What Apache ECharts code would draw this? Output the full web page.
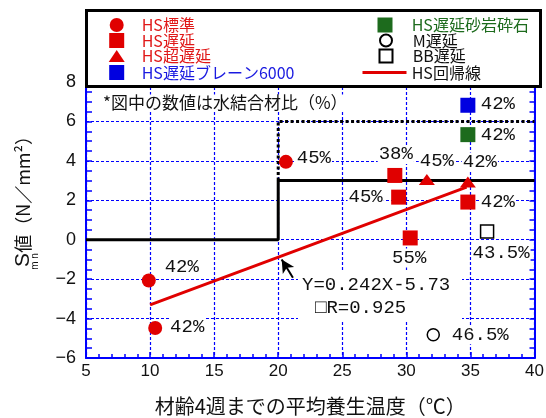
<!DOCTYPE html>
<html><head><meta charset="utf-8">
<script src="https://cdn.jsdelivr.net/npm/echarts@6/dist/echarts.min.js"></script>
<style>html,body{margin:0;padding:0;background:#fff}#c{width:546px;height:418px}</style>
</head><body><div id="c"></div>
<script>
// Sm,n value against the mean curing temperature up to 4 weeks of age
const xTicks = [5, 10, 15, 20, 25, 30, 35, 40];
const yTicks = [-6, -4, -2, 0, 2, 4, 6, 8];

// Water-binder ratios are shown next to each point
const hsStdX = [20.6, 9.9, 10.4];
const hsStdY = [3.95, -2.07, -4.48];
const hsStdWB = ['45%', '42%', '42%'];

const hsRetX = [29.1, 29.4, 30.3, 34.8];
const hsRetY = [3.26, 2.16, 0.09, 1.91];
const hsRetWB = ['38%', '45%', '55%', '42%'];

const hsSuperX = [31.6, 34.8];
const hsSuperY = [3.05, 2.93];
const hsSuperWB = ['45%', '42%'];

const hsBlaineX = [34.8];
const hsBlaineY = [6.82];
const hsBlaineWB = ['42%'];

const hsSandX = [34.8];
const hsSandY = [5.33];
const hsSandWB = ['42%'];

const mRetX = [32.1];
const mRetY = [-4.82];
const mRetWB = ['46.5%'];

const bbRetX = [36.3];
const bbRetY = [0.42];
const bbRetWB = ['43.5%'];

// Regression of the HS series
const regSlope = 0.242;
const regIntercept = -5.73;
const regR = '0.925';
const regXRange = [10, 34.7];

// Reference boundaries
const stepSolidX = [5, 20, 20, 40];
const stepSolidY = [0, 0, 3, 3];
const stepDottedX = [20, 20, 40];
const stepDottedY = [3, 6, 6];

// Pointer from the equation to the line (tail, head)
const arrowX = [21.15, 20.27];
const arrowY = [-1.93, -1.0];

// Label offsets of the ratio text, centre relative to the point (px)
const hsStdLabelAt = [[28, -4], [33, -14], [32, -1]];
const hsRetLabelAt = [[1, -21], [-33, 0], [-1, 20], [30, 0]];
const hsSuperLabelAt = [[10, -19], [12, -20]];
const hsBlaineLabelAt = [[30, -1]];
const hsSandLabelAt = [[30, 0]];
const mRetLabelAt = [[47, 0]];
const bbRetLabelAt = [[14, 22]];

const RED = '#e00000', BLUE = '#0000e0', GREEN = '#1d6b1d', AXIS = '#0000ff';
const MONO = '"Liberation Mono", "DejaVu Sans Mono", monospace';
const CJK = '"Noto Sans CJK JP", sans-serif';

function zip(xs, ys) { return xs.map((x, i) => [x, ys[i]]); }

function pointsWithLabels(xs, ys, texts, placements) {
  return xs.map((x, i) => ({
    value: [x, ys[i]],
    label: {
      show: true,
      position: 'inside',
      formatter: texts[i],
      offset: placements[i],
      fontFamily: MONO,
      fontSize: 19,
      color: '#111',
      backgroundColor: '#fff',
      padding: [0, 1]
    }
  }));
}

function scatter(name, symbol, size, style, xs, ys, texts, placements) {
  return {
    name: name, type: 'scatter', symbol: symbol, symbolSize: size,
    itemStyle: Object.assign({ opacity: 1 }, style), z: 5,
    data: pointsWithLabels(xs, ys, texts, placements)
  };
}

const regData = regXRange.map(x => [x, regSlope * x + regIntercept]);

// One legend block per entry: icon centred at iconX, text starting at textX
function legendAt(name, iconX, iconW, iconH, rowY, textX, color, icon) {
  const left = iconX - iconW / 2;
  const item = { name: name, textStyle: { color: color } };
  if (icon) item.icon = icon;
  return {
    data: [item],
    left: left, top: rowY - 8, orient: 'vertical', padding: 0,
    itemWidth: iconW, itemHeight: iconH, selectedMode: false, z: 20,
    textStyle: {
      fontFamily: CJK, fontSize: 16, lineHeight: 16, color: color,
      padding: [0, 0, 0, Math.max(0, textX - (left + iconW + 5))]
    }
  };
}

const L_ICON = 116.7, L_TEXT = 141.7, R_ICON = 385, R_TEXT = 411.7;

const chart = echarts.init(document.getElementById('c'));
chart.setOption({
  animation: false,
  backgroundColor: '#fff',
  grid: { left: 86, right: 11.5, top: 82, bottom: 60, containLabel: false, outerBoundsMode: 'none' },
  legend: [
    legendAt('HS標準', L_ICON, 14, 14, 25, L_TEXT, '#e01818'),
    legendAt('HS遅延', L_ICON, 15, 15, 40.5, L_TEXT, '#e01818'),
    legendAt('HS超遅延', L_ICON, 16, 12, 56, L_TEXT, '#e01818'),
    legendAt('HS遅延ブレーン6000', L_ICON, 15, 15, 72.5, L_TEXT, '#1a1ae0'),
    legendAt('HS遅延砂岩砕石', R_ICON, 15, 15, 25, R_TEXT, '#1d6b1d'),
    legendAt('M遅延', R_ICON, 12, 12, 40.5, R_TEXT, '#111'),
    legendAt('BB遅延', R_ICON, 13, 13, 56, R_TEXT, '#111'),
    legendAt('HS回帰線', R_ICON - 0.5, 44, 3, 72.5, R_TEXT, '#111', 'path://M0,0H44V3H0Z')
  ],
  xAxis: {
    type: 'value', min: xTicks[0], max: xTicks[xTicks.length - 1], interval: 5,
    name: '材齢4週までの平均養生温度（℃）', nameLocation: 'middle', nameGap: 38,
    nameTextStyle: { fontFamily: CJK, fontSize: 20, color: '#111' },
    axisLine: { show: true, onZero: false, lineStyle: { color: AXIS, width: 2 } },
    axisTick: { show: true, inside: true, length: 6, lineStyle: { color: AXIS, width: 1.5 } },
    minorTick: { show: true, splitNumber: 5, length: 4, lineStyle: { color: AXIS, width: 1.5 } },
    axisLabel: { fontFamily: '"Liberation Sans", Arial, sans-serif', fontSize: 17, color: '#111', margin: 5 },
    splitLine: { show: true, lineStyle: { color: AXIS, width: 1.2, type: [3, 2] } }
  },
  yAxis: [{
    type: 'value', min: yTicks[0], max: yTicks[yTicks.length - 1], interval: 2,
    axisLine: { show: true, onZero: false, lineStyle: { color: AXIS, width: 2 } },
    axisTick: { show: true, inside: true, length: 6, lineStyle: { color: AXIS, width: 1.5 } },
    minorTick: { show: true, splitNumber: 4, length: 6, lineStyle: { color: AXIS, width: 1.5 } },
    axisLabel: {
      fontFamily: '"Liberation Sans", Arial, sans-serif', fontSize: 18, color: '#111', margin: 10,
      formatter: v => (v < 0 ? '\u2212' + (-v) : String(v))
    },
    splitLine: { show: true, lineStyle: { color: AXIS, width: 1.2, type: [3, 2] } }
  }, {
    type: 'value', position: 'right', min: yTicks[0], max: yTicks[yTicks.length - 1], interval: 2,
    axisLine: { show: true, onZero: false, lineStyle: { color: AXIS, width: 2 } },
    axisTick: { show: true, inside: true, length: 5, lineStyle: { color: AXIS, width: 1.5 } },
    minorTick: { show: true, splitNumber: 4, length: 5, lineStyle: { color: AXIS, width: 1.5 } },
    axisLabel: { show: false },
    splitLine: { show: false }
  }],
  graphic: [
    { type: 'rect', z: 10, shape: { x: 86.5, y: 10.5, width: 454, height: 76 },
      style: { fill: '#fff', stroke: '#000', lineWidth: 3 } },
    { type: 'text', z: 1, x: 103, y: 103,
      style: { text: '*図中の数値は水結合材比（%）', font: '17px ' + CJK, fill: '#111',
        textVerticalAlign: 'middle', verticalAlign: 'middle', backgroundColor: '#fff' } },
    { type: 'rect', z: 1, shape: { x: 298, y: 272, width: 164, height: 49 }, style: { fill: '#fff' } },
    { type: 'text', z: 3, x: 302, y: 285,
      style: { text: 'Y=' + regSlope + 'X-' + Math.abs(regIntercept), font: '19px ' + MONO, fill: '#111',
        textVerticalAlign: 'middle', verticalAlign: 'middle' } },
    { type: 'text', z: 3, x: 315, y: 308,
      style: { text: '\u25A1R=' + regR, font: '19px ' + MONO, fill: '#111',
        textVerticalAlign: 'middle', verticalAlign: 'middle' } },
    { type: 'text', z: 3, x: 23, y: 197, rotation: Math.PI / 2,
      style: { text: '{s|S}{t|値（N／mm²）}', fill: '#111',
        textAlign: 'center', align: 'center', textVerticalAlign: 'middle', verticalAlign: 'middle',
        rich: { s: { fontFamily: '"Liberation Sans", Arial, sans-serif', fontSize: 21, fill: '#111' },
                t: { fontFamily: CJK, fontSize: 18, fill: '#111' } } } },
    { type: 'text', z: 3, x: 35, y: 261.5, rotation: Math.PI / 2,
      style: { text: 'm n', font: '10px "Liberation Sans", Arial, sans-serif', fill: '#111',
        textAlign: 'center', align: 'center', textVerticalAlign: 'middle', verticalAlign: 'middle' } }
  ],
  series: [
    { type: 'line', data: zip(stepSolidX, stepSolidY), symbol: 'none', silent: true, z: 3,
      lineStyle: { color: '#000', width: 3 } },
    { type: 'line', data: zip(stepDottedX, stepDottedY), symbol: 'none', silent: true, z: 3,
      lineStyle: { color: '#000', width: 3, type: [3, 2.5] } },
    { name: 'HS回帰線', type: 'line', data: regData, symbol: 'none', z: 4,
      itemStyle: { color: RED }, lineStyle: { color: RED, width: 3 },
      markLine: {
        silent: true, symbol: ['none', 'arrow'], symbolSize: [10, 13], label: { show: false },
        lineStyle: { color: '#000', width: 2, type: 'solid' },
        data: [[{ coord: [arrowX[0], arrowY[0]] }, { coord: [arrowX[1], arrowY[1]] }]]
      } },
    scatter('HS標準', 'circle', 14, { color: RED }, hsStdX, hsStdY, hsStdWB, hsStdLabelAt),
    scatter('HS遅延', 'rect', 15, { color: RED }, hsRetX, hsRetY, hsRetWB, hsRetLabelAt),
    scatter('HS超遅延', 'triangle', [16, 11], { color: RED }, hsSuperX, hsSuperY, hsSuperWB, hsSuperLabelAt),
    scatter('HS遅延ブレーン6000', 'rect', 15, { color: BLUE }, hsBlaineX, hsBlaineY, hsBlaineWB, hsBlaineLabelAt),
    scatter('HS遅延砂岩砕石', 'rect', 15, { color: GREEN }, hsSandX, hsSandY, hsSandWB, hsSandLabelAt),
    scatter('M遅延', 'circle', 12, { color: '#fff', borderColor: '#000', borderWidth: 1.5 }, mRetX, mRetY, mRetWB, mRetLabelAt),
    scatter('BB遅延', 'rect', 13, { color: '#fff', borderColor: '#000', borderWidth: 1.5 }, bbRetX, bbRetY, bbRetWB, bbRetLabelAt)
  ]
});
</script>
</body></html>
